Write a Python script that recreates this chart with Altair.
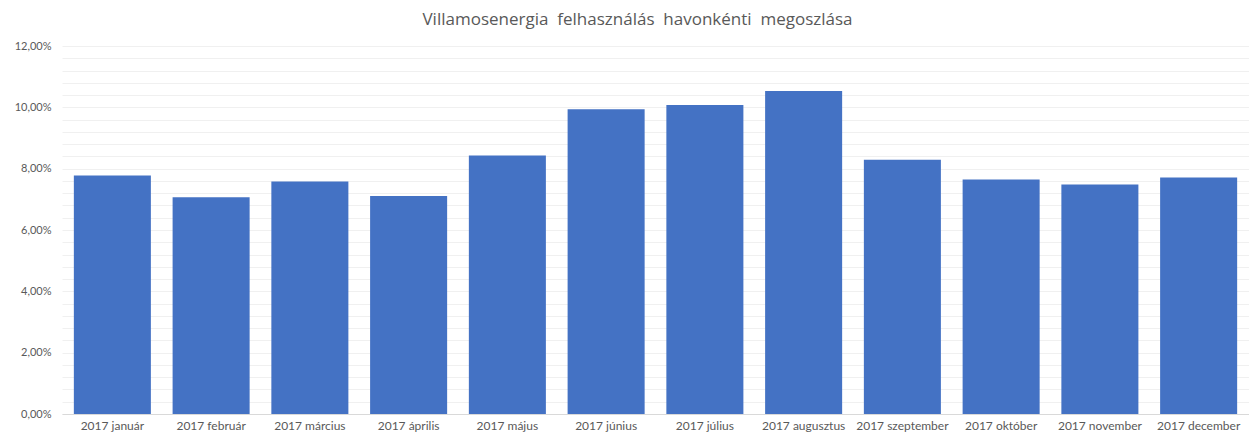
import altair as alt
import pandas as pd

months = ["2017 január", "2017 február", "2017 március", "2017 április", "2017 május",
          "2017 június", "2017 július", "2017 augusztus", "2017 szeptember",
          "2017 október", "2017 november", "2017 december"]
shares = [0.0778, 0.0707, 0.0758, 0.0711, 0.0843, 0.0994, 0.1008, 0.1053,
          0.0829, 0.0765, 0.0748, 0.0771]
grid_values = [round(i * 0.004, 4) for i in range(31)]

df = pd.DataFrame({"month": months, "share": shares})

FONT = "Lato"
GRAY = "#595959"
title_text = "Villamosenergia\u00a0 felhasználás\u00a0 havonkénti\u00a0 megoszlása"

chart = alt.Chart(df).mark_bar(color="#4472C4").encode(
    x=alt.X("month:N", sort=months, title=None,
            scale=alt.Scale(paddingInner=0.22, paddingOuter=0.12),
            axis=alt.Axis(labelAngle=0, labelFont=FONT, labelFontSize=12,
                          labelColor=GRAY, ticks=False, domain=True,
                          domainColor="#d9d9d9", labelPadding=6)),
    y=alt.Y("share:Q", title=None,
            scale=alt.Scale(domain=[0, 0.12], nice=False),
            axis=alt.Axis(values=grid_values, ticks=False, domain=False,
                          labelFont=FONT, labelFontSize=11, labelColor=GRAY,
                          labelPadding=11,
                          labelExpr="(round(datum.value*1000) % 20 == 0) ? replace(format(datum.value, '.2%'), '.', ',') : ''",
                          gridColor="#f0f0f0", gridWidth=1)),
).properties(
    width=1187,
    height=368,
    title=alt.TitleParams(title_text,
                          font="Open Sans", fontSize=17, fontWeight="normal",
                          color=GRAY, offset=11, dx=-18),
    autosize=alt.AutoSizeParams(type="none"),
    padding={"left": 54, "right": 0, "top": 38, "bottom": 22},
).configure_view(stroke=None)

chart.save("out.html", embed_options={"renderer": "svg", "actions": False})
